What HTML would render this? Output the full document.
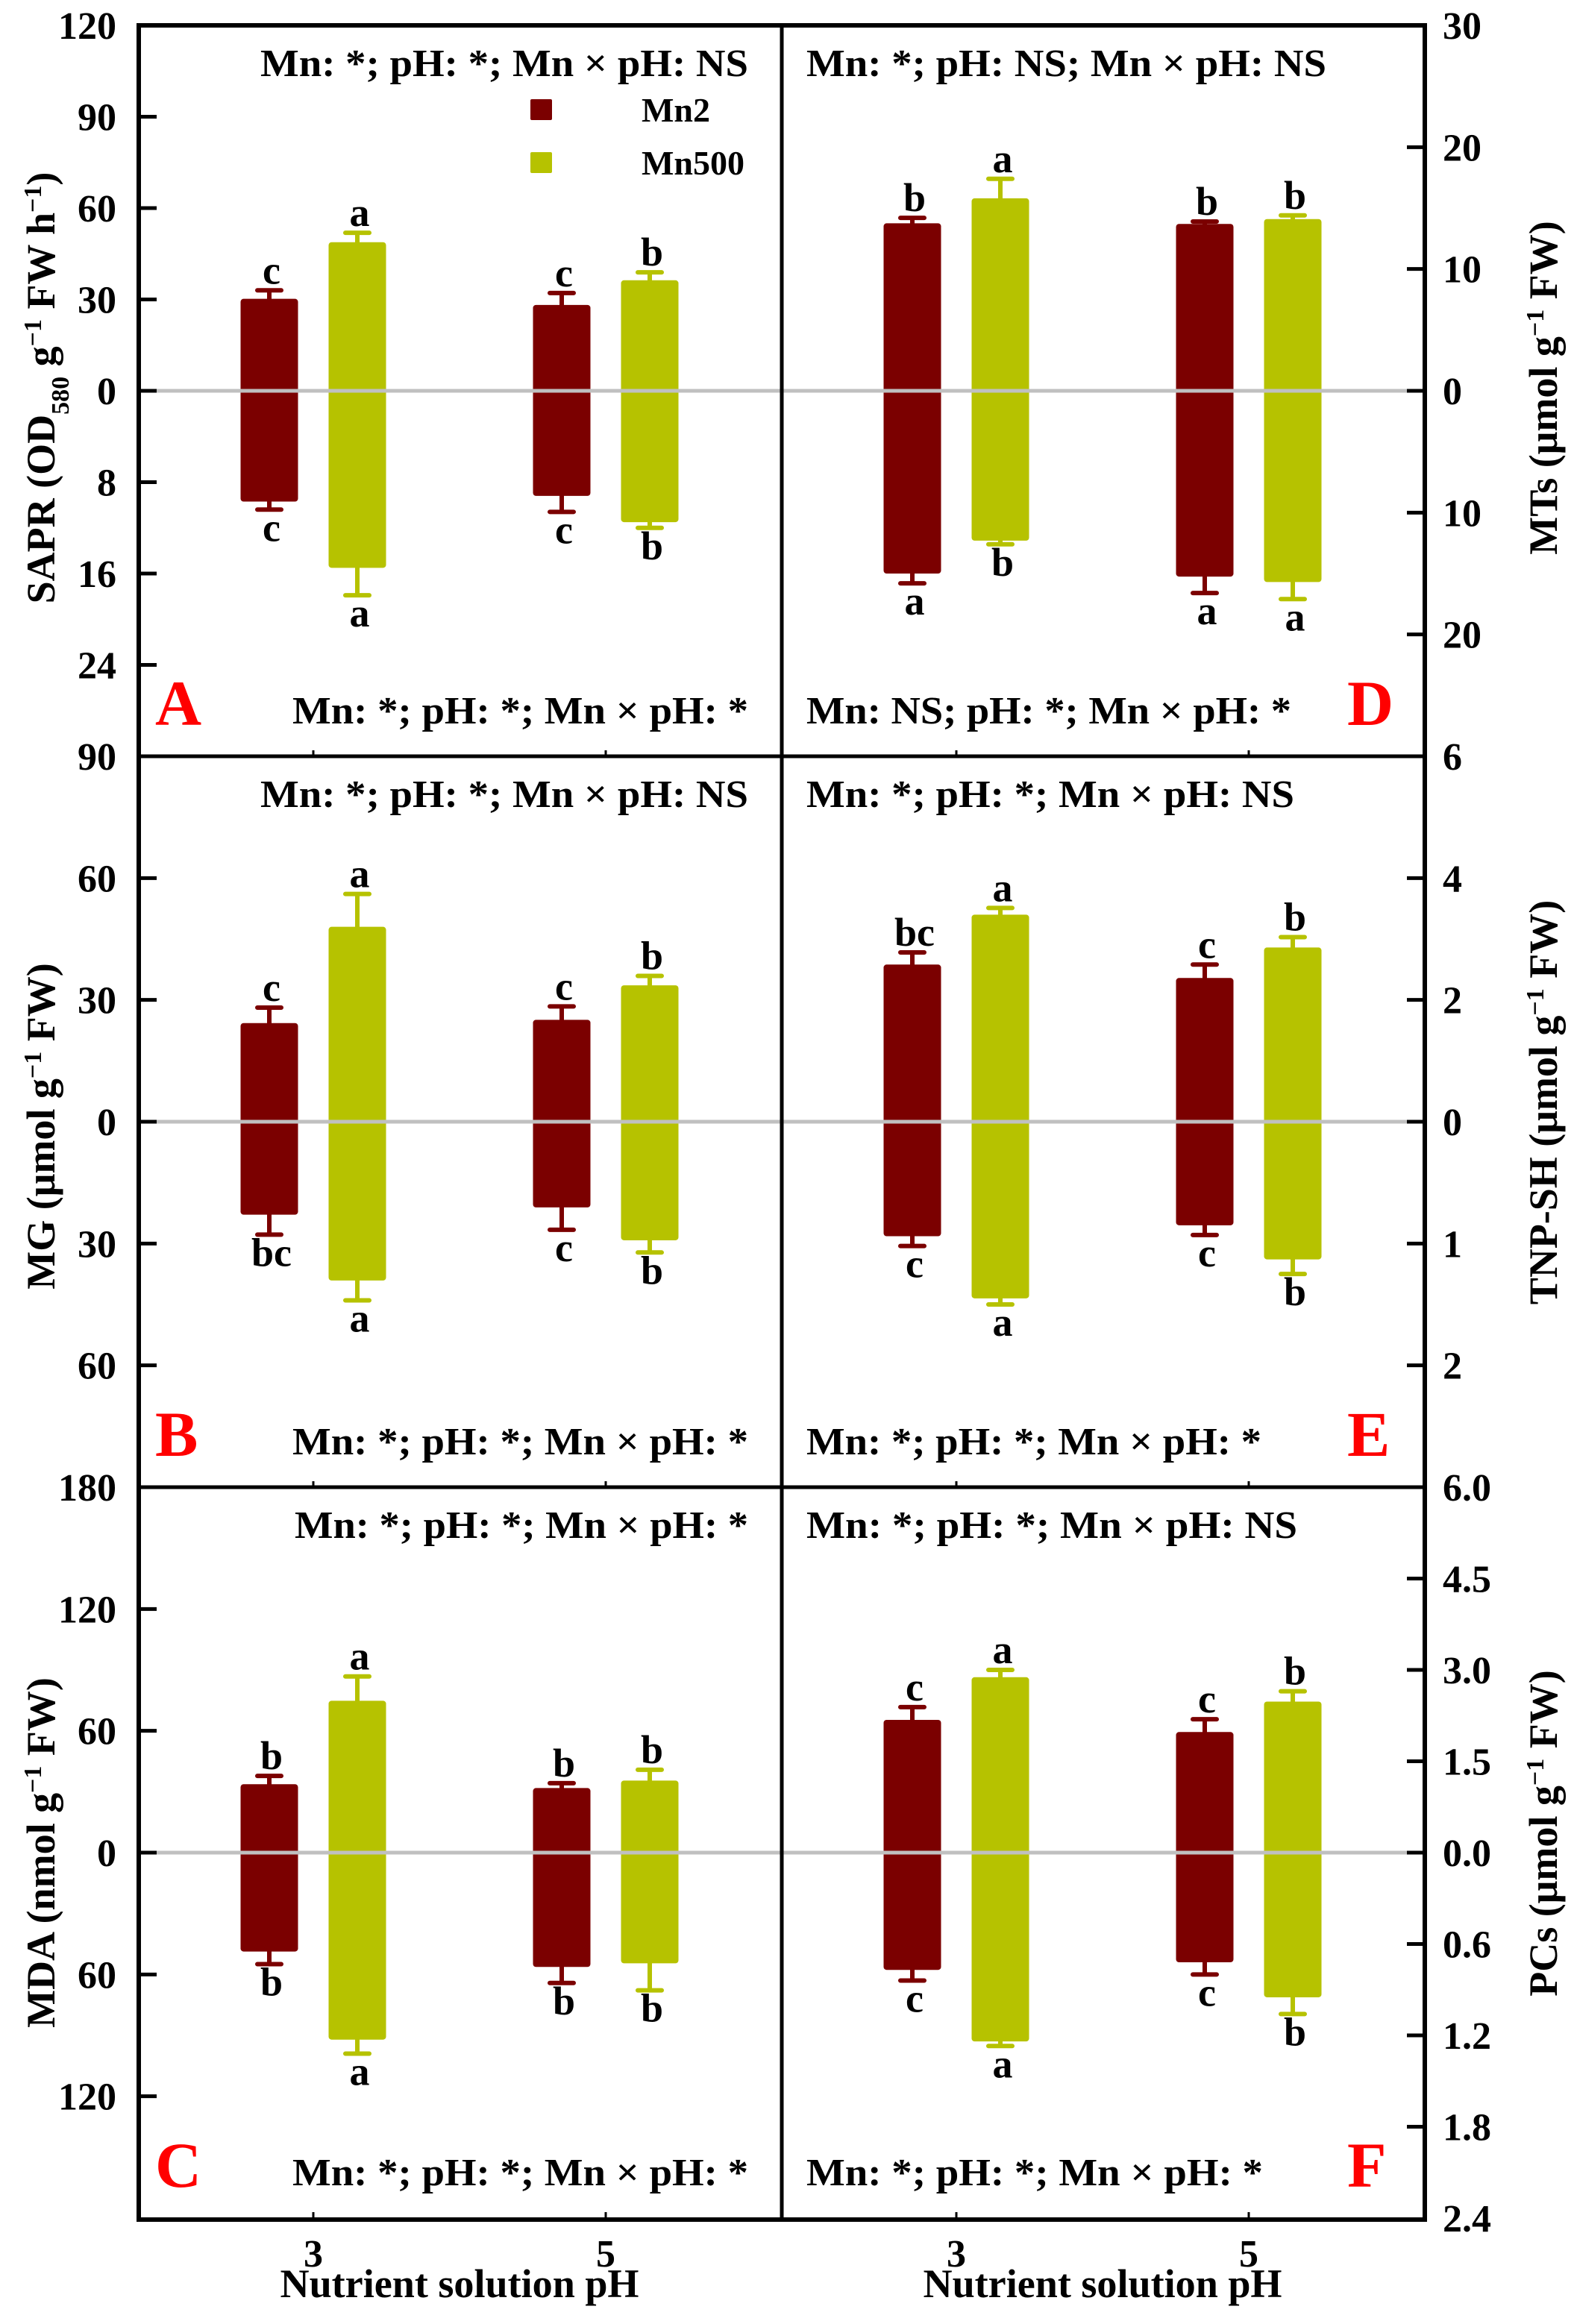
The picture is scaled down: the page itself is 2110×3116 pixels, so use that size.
<!DOCTYPE html>
<html><head><meta charset="utf-8"><style>
html,body{margin:0;padding:0;background:#fff;}
svg{display:block;font-family:"Liberation Serif","DejaVu Serif",serif;font-weight:bold;}
</style></head><body>
<svg id="chart" xmlns="http://www.w3.org/2000/svg" width="2110" height="3116" viewBox="0 0 2110 3116">
<rect x="0" y="0" width="2110" height="3116" fill="#fff"/>
<g id="marks"></g>
<g id="frame"></g>
</svg>
<script>
// ---- shared categories ----
const groups = ["3", "5"];
const seriesNames = ["Mn2", "Mn500"];
const seriesColors = ["#7b0000", "#b6c200"];
// order of bars: [Mn2 pH3, Mn500 pH3, Mn2 pH5, Mn500 pH5]

// ---- Panel A: SAPR (top) ----
const aUp = [30.2, 48.8, 28.2, 36.3];
const aUpSE = [2.8, 3.1, 3.9, 2.6];
const aUpLetters = ["c", "a", "c", "b"];
const aDown = [9.7, 15.5, 9.2, 11.5];
const aDownSE = [0.7, 2.4, 1.4, 0.5];
const aDownLetters = ["c", "a", "c", "b"];
const aTopTicks = [30, 60, 90, 120];
const aBotTicks = [8, 16, 24];

// ---- Panel D: MTs ----
const dUp = [13.75, 15.8, 13.7, 14.1];
const dUpSE = [0.45, 1.6, 0.2, 0.3];
const dUpLetters = ["b", "a", "b", "b"];
const dDown = [15.0, 12.3, 15.25, 15.7];
const dDownSE = [0.8, 0.3, 1.35, 1.4];
const dDownLetters = ["a", "b", "a", "a"];
const dTopTicks = [10, 20, 30];
const dBotTicks = [10, 20];

// ---- Panel B: MG ----
const bUp = [24.3, 48.0, 25.1, 33.6];
const bUpSE = [3.8, 8.1, 3.3, 2.3];
const bUpLetters = ["c", "a", "c", "b"];
const bDown = [22.9, 39.1, 21.1, 29.2];
const bDownSE = [4.9, 4.9, 5.5, 3.0];
const bDownLetters = ["bc", "a", "c", "b"];
const bTopTicks = [30, 60, 90];
const bBotTicks = [30, 60];

// ---- Panel E: TNP-SH ----
const eUp = [2.58, 3.40, 2.36, 2.86];
const eUpSE = [0.20, 0.11, 0.22, 0.17];
const eUpLetters = ["bc", "a", "c", "b"];
const eDown = [0.94, 1.45, 0.85, 1.13];
const eDownSE = [0.08, 0.05, 0.08, 0.12];
const eDownLetters = ["c", "a", "c", "b"];
const eTopTicks = [2, 4, 6];
const eBotTicks = [1, 2];

// ---- Panel C: MDA ----
const cUp = [33.7, 74.8, 31.8, 35.5];
const cUpSE = [4.1, 12.0, 2.4, 5.3];
const cUpLetters = ["b", "a", "b", "b"];
const cDown = [48.7, 92.1, 56.3, 54.5];
const cDownSE = [6.2, 6.9, 7.9, 13.3];
const cDownLetters = ["b", "a", "b", "b"];
const cTopTicks = [60, 120, 180];
const cBotTicks = [60, 120];

// ---- Panel F: PCs ----
const fUp = [2.18, 2.88, 1.98, 2.48];
const fUpSE = [0.21, 0.12, 0.21, 0.17];
const fUpLetters = ["c", "a", "c", "b"];
const fDown = [0.77, 1.24, 0.72, 0.95];
const fDownSE = [0.07, 0.03, 0.08, 0.11];
const fDownLetters = ["c", "a", "c", "b"];
const fTopTicks = [1.5, 3.0, 4.5, 6.0];
const fBotTicks = [0.6, 1.2, 1.8, 2.4];

const NS = "http://www.w3.org/2000/svg";
const marks = document.getElementById("marks");
const frame = document.getElementById("frame");
function mk(tag, attrs, parent) {
  const el = document.createElementNS(NS, tag);
  for (const k in attrs) el.setAttribute(k, attrs[k]);
  (parent || marks).appendChild(el);
  return el;
}

const PH = 980, HALF = 490;
const panels = [
  {id:"a", x:186, y:34, side:"left", up:aUp, upSE:aUpSE, upL:aUpLetters, dn:aDown, dnSE:aDownSE, dnL:aDownLetters, topMax:120, botMax:32, topTicks:aTopTicks, botTicks:aBotTicks, dec:0,
   tTop:"Mn: *; pH: *; Mn \u00D7 pH: NS", tTopW:654, tBot:"Mn: *; pH: *; Mn \u00D7 pH: *", tBotW:611, letter:"A"},
  {id:"b", x:186, y:1014, side:"left", up:bUp, upSE:bUpSE, upL:bUpLetters, dn:bDown, dnSE:bDownSE, dnL:bDownLetters, topMax:90, botMax:90, topTicks:bTopTicks, botTicks:bBotTicks, dec:0,
   tTop:"Mn: *; pH: *; Mn \u00D7 pH: NS", tTopW:654, tBot:"Mn: *; pH: *; Mn \u00D7 pH: *", tBotW:611, letter:"B"},
  {id:"c", x:186, y:1994, side:"left", up:cUp, upSE:cUpSE, upL:cUpLetters, dn:cDown, dnSE:cDownSE, dnL:cDownLetters, topMax:180, botMax:180, topTicks:cTopTicks, botTicks:cBotTicks, dec:0,
   tTop:"Mn: *; pH: *; Mn \u00D7 pH: *", tTopW:608, tBot:"Mn: *; pH: *; Mn \u00D7 pH: *", tBotW:611, letter:"C"},
  {id:"d", x:1048, y:34, side:"right", up:dUp, upSE:dUpSE, upL:dUpLetters, dn:dDown, dnSE:dDownSE, dnL:dDownLetters, topMax:30, botMax:30, topTicks:dTopTicks, botTicks:dBotTicks, dec:0,
   tTop:"Mn: *; pH: NS; Mn \u00D7 pH: NS", tTopW:697, tBot:"Mn: NS; pH: *; Mn \u00D7 pH: *", tBotW:650, letter:"D"},
  {id:"e", x:1048, y:1014, side:"right", up:eUp, upSE:eUpSE, upL:eUpLetters, dn:eDown, dnSE:eDownSE, dnL:eDownLetters, topMax:6, botMax:3, topTicks:eTopTicks, botTicks:eBotTicks, dec:0,
   tTop:"Mn: *; pH: *; Mn \u00D7 pH: NS", tTopW:654, tBot:"Mn: *; pH: *; Mn \u00D7 pH: *", tBotW:610, letter:"E"},
  {id:"f", x:1048, y:1994, side:"right", up:fUp, upSE:fUpSE, upL:fUpLetters, dn:fDown, dnSE:fDownSE, dnL:fDownLetters, topMax:6, botMax:2.4, topTicks:fTopTicks, botTicks:fBotTicks, dec:1,
   tTop:"Mn: *; pH: *; Mn \u00D7 pH: NS", tTopW:658, tBot:"Mn: *; pH: *; Mn \u00D7 pH: *", tBotW:612, letter:"F"}
];
const groupCenters = [234, 626]; // relative to panel left
const barW = 77, barGap = 41;

panels.forEach(p => {
  const zero = p.y + HALF;
  const yUp = v => zero - v / p.topMax * HALF;
  const yDn = v => zero + v / p.botMax * HALF;
  const g = mk("g", {});
  
  

  // bars
  for (let gi = 0; gi < groups.length; gi++) {
    for (let si = 0; si < seriesNames.length; si++) {
      const i = gi * 2 + si;
      const cx = p.x + groupCenters[gi] + (si === 0 ? -1 : 1) * (barW + barGap) / 2;
      const col = seriesColors[si];
      const yt = yUp(p.up[i]), yb = yDn(p.dn[i]);
      const bar = mk("rect", {x: cx - barW/2, y: yt, width: barW, height: yb - yt, rx: 4, fill: col}, g);
      
      
      // error up
      const eu = yUp(p.up[i] + p.upSE[i]);
      const e1 = mk("path", {d: `M${cx},${yt} V${eu} M${cx-16},${eu} H${cx+16}`, stroke: col, "stroke-width": 6, "stroke-linecap": "round", fill: "none"}, g);
      
      
      const ed = yDn(p.dn[i] + p.dnSE[i]);
      const e2 = mk("path", {d: `M${cx},${yb} V${ed} M${cx-16},${ed} H${cx+16}`, stroke: col, "stroke-width": 6, "stroke-linecap": "round", fill: "none"}, g);
      
      
      const l1 = mk("text", {x: cx + 3, y: eu - 9, "text-anchor": "middle", "font-size": 54}, g);
      l1.textContent = p.upL[i];
      
      
      const l2 = mk("text", {x: cx + 3, y: ed + 42, "text-anchor": "middle", "font-size": 54}, g);
      l2.textContent = p.dnL[i];
      
      
    }
  }
  // zero line
  const zl = mk("line", {x1: p.x, x2: p.x + 862, y1: zero, y2: zero, stroke: "#c0c0c0", "stroke-width": 5}, g);
  
  

  // ticks and labels
  const axisX = p.side === "left" ? p.x : p.x + 862;
  const dir = p.side === "left" ? 1 : -1;
  const fmt = v => p.dec ? v.toFixed(p.dec) : String(v);
  const addTick = (yy, lab, drawTick) => {
    if (drawTick) {
      const t = mk("line", {x1: axisX, x2: axisX + dir * 24, y1: yy, y2: yy, stroke: "#000", "stroke-width": 5}, frame);
      
      
    }
    const tx = p.side === "left" ? axisX - 30 : axisX + 24;
    const tl = mk("text", {x: tx, y: yy + 18, "text-anchor": p.side === "left" ? "end" : "start", "font-size": 52}, frame);
    tl.textContent = lab;
    
    
  };
  addTick(zero, p.dec ? (0).toFixed(p.dec) : "0", true);
  p.topTicks.forEach(v => addTick(yUp(v), fmt(v), v < p.topMax));
  p.botTicks.forEach(v => { if (v <= p.botMax + 1e-9) addTick(yDn(v), fmt(v), v < p.botMax - 1e-9); });

  // annotations
  const anchorX = p.side === "left" ? 1003 : 1081;
  const anchor = p.side === "left" ? "end" : "start";
  const at = mk("text", {x: anchorX, y: p.y + 68, "text-anchor": anchor, "font-size": 52, textLength: p.tTopW, lengthAdjust: "spacingAndGlyphs"}, g);
  at.textContent = p.tTop;
  
  
  const ab = mk("text", {x: anchorX, y: p.y + 936, "text-anchor": anchor, "font-size": 52, textLength: p.tBotW, lengthAdjust: "spacingAndGlyphs"}, g);
  ab.textContent = p.tBot;
  
  
  const pl = mk("text", {x: p.side === "left" ? p.x + 22 : p.x + 758, y: p.y + 938, fill: "#ff0000", "font-size": 86}, g);
  pl.textContent = p.letter;
  
  

  // bottom small ticks at group centers
  groupCenters.forEach(gc => {
    const bt = mk("line", {x1: p.x + gc, x2: p.x + gc, y1: p.y + PH, y2: p.y + PH - 8, stroke: "#000", "stroke-width": 3}, frame);
    
    
  });
});

// frame lines
const fr = mk("rect", {x: 186, y: 34, width: 1724, height: 2942, fill: "none", stroke: "#000", "stroke-width": 6}, frame);


[[1048, 34, 1048, 2976], [186, 1014, 1910, 1014], [186, 1994, 1910, 1994]].forEach(l => {
  const ln = mk("line", {x1: l[0], y1: l[1], x2: l[2], y2: l[3], stroke: "#000", "stroke-width": 5}, frame);
  
  
});

// legend
const legY = [147, 218];
seriesNames.forEach((s, i) => {
  const sq = mk("rect", {x: 711, y: legY[i] - 14, width: 29, height: 28, fill: seriesColors[i], rx: 2}, frame);
  
  
  const lt = mk("text", {x: 860, y: legY[i] + 16, "font-size": 46}, frame);
  lt.textContent = s;
  
  
});

// x axis labels
[[186, 420], [1048, 1282]].forEach((pp, k) => {
  groups.forEach((gname, gi) => {
    const xl = mk("text", {x: pp[0] + groupCenters[gi], y: 3039, "text-anchor": "middle", "font-size": 52}, frame);
    xl.textContent = gname;
    
    
  });
  const xt = mk("text", {x: pp[0] + 430, y: 3080, "text-anchor": "middle", "font-size": 54, textLength: 481, lengthAdjust: "spacingAndGlyphs"}, frame);
  xt.textContent = "Nutrient solution pH";
  
  
});

// y axis titles
function yTitle(cx, cy, len, parts, name) {
  const t = mk("text", {x: cx, y: cy, "text-anchor": "middle", "font-size": 54, transform: `rotate(-90 ${cx} ${cy})`, dy: "0.35em"}, frame);
  
  
  parts.forEach(pt => {
    const ts = document.createElementNS(NS, "tspan");
    ts.textContent = pt[0];
    if (pt[1] === "sub") { ts.setAttribute("baseline-shift", "sub"); ts.setAttribute("font-size", "34"); }
    if (pt[1] === "sup") { ts.setAttribute("baseline-shift", "super"); ts.setAttribute("font-size", "34"); }
    t.appendChild(ts);
  });
  return t;
}
yTitle(54, 520, 597, [["SAPR (OD"], ["580", "sub"], [" g"], ["\u22121", "sup"], [" FW h"], ["\u22121", "sup"], [")"]], "y-axis-title-sapr");
yTitle(54, 1510, 458, [["MG (\u03BCmol g"], ["\u22121", "sup"], [" FW)"]], "y-axis-title-mg");
yTitle(54, 2484, 480, [["MDA (nmol g"], ["\u22121", "sup"], [" FW)"]], "y-axis-title-mda");
yTitle(2068, 520, 480, [["MTs (\u03BCmol g"], ["\u22121", "sup"], [" FW)"]], "y-axis-title-mts");
yTitle(2068, 1478, 564, [["TNP-SH (\u03BCmol g"], ["\u22121", "sup"], [" FW)"]], "y-axis-title-tnp-sh");
yTitle(2068, 2458, 484, [["PCs (\u03BCmol g"], ["\u22121", "sup"], [" FW)"]], "y-axis-title-pcs");
</script>
</body></html>
